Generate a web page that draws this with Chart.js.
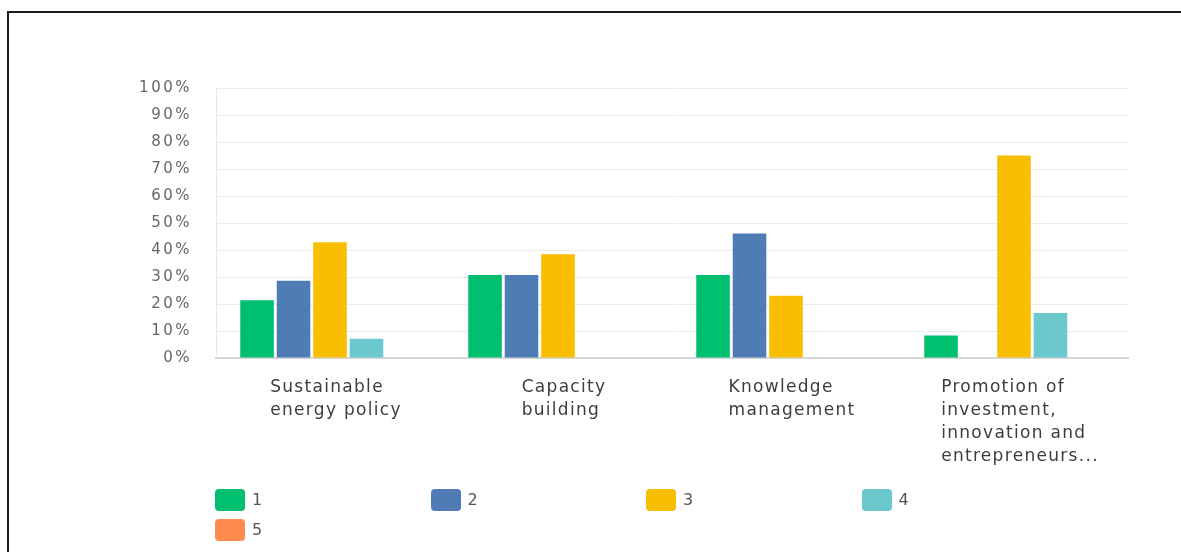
<!DOCTYPE html>
<html>
<head>
<meta charset="utf-8">
<script src="https://cdn.jsdelivr.net/npm/chart.js@4/dist/chart.umd.min.js"></script>
<style>
  html, body { margin: 0; padding: 0; background: #fff; overflow: hidden; }
  #wrap { position: relative; width: 1181px; height: 552px; }
  #frame { position: absolute; left: 7px; top: 11px; width: 1300px; height: 700px; border: 2px solid #1a1a1a; }
  #myChart { position: absolute; left: 0; top: 0; }
  #legend { position: absolute; left: 215px; top: 489px; width: 900px; font-family: "DejaVu Sans", sans-serif; font-size: 16px; color: #555; letter-spacing: 1px; }
  .item { position: absolute; height: 22px; line-height: 22px; }
  .box { display: inline-block; width: 30px; height: 22px; border-radius: 4px; vertical-align: top; margin-right: 7px; }
</style>
</head>
<body>
<div id="wrap">
  <div id="frame"></div>
  <canvas id="myChart" width="1181" height="552"></canvas>
  <div id="legend"></div>
</div>
<script>
// categorias e valores (%)
var categories = [
    ['Sustainable', 'energy policy'],
    ['Capacity', 'building'],
    ['Knowledge', 'management'],
    ['Promotion of', 'investment,', 'innovation and', 'entrepreneurs...']
];
var seriesNames = ['1', '2', '3', '4', '5'];
var s1 = [21.43, 30.77, 30.77, 8.33];
var s2 = [28.57, 30.77, 46.15, 0];
var s3 = [42.86, 38.46, 23.08, 75];
var s4 = [7.14, 0, 0, 16.67];
var s5 = [0, 0, 0, 0];
var colors = ['#00bf6f', '#507cb6', '#f9be00', '#6bc8cd', '#ff8b4f'];
var yTicks = [0, 10, 20, 30, 40, 50, 60, 70, 80, 90, 100];

// rótulos do eixo x alinhados à esquerda em bloco
var xLabels = {
    id: 'xLabels',
    afterDraw: function (chart) {
        var ctx = chart.ctx;
        var x = chart.scales.x;
        ctx.save();
        ctx.letterSpacing = '1.3px';
        ctx.font = '17px "DejaVu Sans"';
        ctx.fillStyle = '#3d3d3d';
        ctx.textBaseline = 'middle';
        ctx.textAlign = 'left';
        categories.forEach(function (lines, i) {
            var w = 0;
            lines.forEach(function (l) { w = Math.max(w, ctx.measureText(l).width); });
            var cx = x.getPixelForValue(i);
            var left = cx - w / 2 + 6;
            lines.forEach(function (l, j) {
                ctx.fillText(l, left, chart.chartArea.bottom + 30 + j * 23);
            });
        });
        ctx.restore();
    }
};

var spacing = {
    id: 'spacing',
    beforeDraw: function (chart) { chart.ctx.letterSpacing = '2.5px'; }
};

var ctx = document.getElementById('myChart').getContext('2d');
var chart = new Chart(ctx, {
    type: 'bar',
    data: {
        labels: categories.map(function (c) { return c.join(' '); }),
        datasets: [s1, s2, s3, s4, s5].map(function (d, i) {
            return {
                label: seriesNames[i],
                data: d,
                backgroundColor: colors[i],
                borderWidth: 0,
                categoryPercentage: 0.8,
                barPercentage: 0.92
            };
        })
    },
    plugins: [spacing, xLabels],
    options: {
        responsive: false,
        animation: false,
        layout: { padding: { left: 0, top: 88, right: 53, bottom: 194 } },
        plugins: {
            legend: { display: false },
            tooltip: { enabled: false }
        },
        scales: {
            x: {
                ticks: { display: false },
                grid: { display: false, drawTicks: false },
                border: { color: '#d6d6d6', width: 2 },
                afterFit: function (s) { s.height = 0; }
            },
            y: {
                min: 0,
                max: 100,
                afterBuildTicks: function (s) { s.ticks = yTicks.map(function (v) { return { value: v }; }); },
                afterFit: function (s) { s.width = 216; },
                ticks: {
                    padding: 24,
                    color: '#666',
                    font: { family: 'DejaVu Sans', size: 15 },
                    callback: function (v) { return v + '%'; }
                },
                grid: { color: '#ececec', lineWidth: 1, drawTicks: false },
                border: { color: '#e6e6e6', width: 1 }
            }
        }
    }
});

// legenda em HTML, 4 itens por linha
var legend = document.getElementById('legend');
chart.data.datasets.forEach(function (ds, i) {
    var item = document.createElement('div');
    item.className = 'item';
    item.style.left = (i % 4) * 215.5 + 'px';
    item.style.top = Math.floor(i / 4) * 30 + 'px';
    var box = document.createElement('span');
    box.className = 'box';
    box.style.background = ds.backgroundColor;
    item.appendChild(box);
    item.appendChild(document.createTextNode(ds.label));
    legend.appendChild(item);
});
</script>
</body>
</html>
